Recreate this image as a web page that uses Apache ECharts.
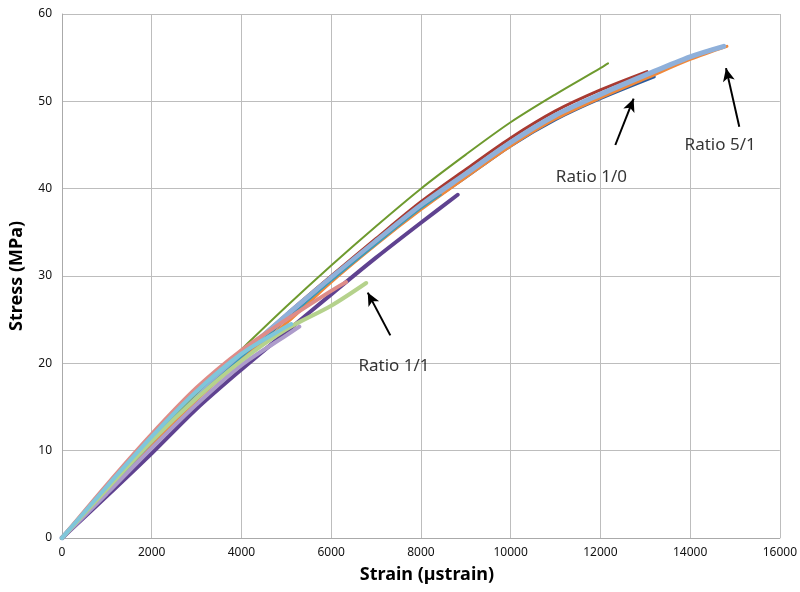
<!DOCTYPE html>
<html>
<head>
<meta charset="utf-8">
<script src="https://cdn.jsdelivr.net/npm/echarts@6/dist/echarts.min.js"></script>
<style>
  html, body { margin: 0; padding: 0; background: #fff; }
  #main { width: 800px; height: 592px; }
</style>
</head>
<body>
<div id="main"></div>
<script>
// strain (µstrain) / stress (MPa), one pair per test curve
var darkBlueStrain = [0, 1000, 2000, 3000, 4000, 5000, 6000, 7000, 8000, 9000, 10000, 11000, 12000, 13200];
var darkBlueStress = [0, 5.2, 10.7, 15.9, 20.6, 25.1, 29.5, 33.7, 37.7, 41.3, 44.9, 47.9, 50.3, 52.8];

var redStrain = [0, 1000, 2000, 3000, 4000, 5000, 6000, 7000, 8000, 9000, 10000, 11000, 12000, 13040];
var redStress = [0, 5.5, 11.0, 16.3, 21.0, 25.6, 30.0, 34.3, 38.5, 42.2, 45.8, 48.9, 51.3, 53.4];

var orangeStrain = [0, 1000, 2000, 3000, 4000, 5000, 6000, 7000, 8000, 9000, 10000, 11000, 12000, 13000, 14000, 14820];
var orangeStress = [0, 5.2, 10.6, 15.8, 20.4, 24.6, 29.3, 33.6, 37.6, 41.3, 44.9, 48.0, 50.4, 52.6, 54.8, 56.3];

var lightBlueStrain = [0, 1000, 2000, 3000, 4000, 5000, 6000, 7000, 8000, 9000, 10000, 11000, 12000, 13000, 14000, 14750];
var lightBlueStress = [0, 5.6, 11.2, 16.4, 21.0, 25.5, 29.8, 34.0, 38.1, 41.7, 45.3, 48.4, 50.8, 53.0, 55.1, 56.3];

var greenStrain = [0, 1000, 2000, 3000, 4000, 5000, 6000, 7000, 8000, 9000, 10000, 11000, 12000, 12170];
var greenStress = [0, 5.8, 11.4, 16.6, 21.6, 26.5, 31.2, 35.7, 40.0, 43.9, 47.6, 50.8, 53.8, 54.35];

var purpleStrain = [0, 1000, 2000, 3000, 4000, 5000, 6000, 7000, 8000, 8820];
var purpleStress = [0, 4.8, 9.7, 14.8, 19.3, 23.6, 27.9, 32.1, 36.1, 39.3];

var tealStrain = [0, 1000, 2000, 3000, 4000, 5000, 6000, 7000, 8000, 8450];
var tealStress = [0, 5.4, 10.9, 16.1, 20.7, 25.0, 29.4, 33.6, 37.7, 39.3];

var pinkStrain = [0, 1000, 2000, 3000, 4000, 5000, 6000, 6330];
var pinkStress = [0, 6.1, 11.9, 17.2, 21.5, 25.0, 28.3, 29.3];

var lightGreenStrain = [0, 1000, 2000, 3000, 4000, 5000, 6000, 6780];
var lightGreenStress = [0, 5.6, 11.1, 16.0, 20.3, 23.9, 26.6, 29.2];

var lightPurpleStrain = [0, 1000, 2000, 3000, 4000, 5000, 5290];
var lightPurpleStress = [0, 5.1, 10.3, 15.3, 19.8, 23.2, 24.2];

var lightCyanStrain = [0, 1000, 2000, 3000, 4000, 5000, 5110];
var lightCyanStress = [0, 5.9, 11.6, 16.8, 21.1, 24.2, 24.5];

// annotations: label position, arrow tail, arrow head (data units)
var noteTexts = ['Ratio 1/1', 'Ratio 1/0', 'Ratio 5/1'];
var noteAt = [[7400, 19.7], [11800, 41.3], [14670, 45.0]];
var arrowFrom = [[7318, 23.2], [12333, 45.0], [15096, 47.1]];
var arrowTo = [[6815, 28.1], [12741, 50.3], [14800, 53.8]];

var FONT = 'Noto Sans';

function pairs(xs, ys) {
	var out = [];
	for (var i = 0; i < xs.length; i++) out.push([xs[i], ys[i]]);
	return out;
}

function curve(xs, ys, color, width) {
	return {
		type: 'line',
		data: pairs(xs, ys),
		showSymbol: false,
		smooth: 0.3,
		lineStyle: { color: color, width: width, cap: 'round' },
		itemStyle: { color: color },
		z: 2
	};
}

var series = [
	curve(darkBlueStrain, darkBlueStress, '#2B5C9E', 3),
	curve(redStrain, redStress, '#A83A32', 3),
	curve(orangeStrain, orangeStress, '#F0883A', 3),
	curve(lightBlueStrain, lightBlueStress, '#8FB0DA', 5),
	curve(greenStrain, greenStress, '#6E9A2E', 2),
	curve(purpleStrain, purpleStress, '#5F4290', 4),
	curve(tealStrain, tealStress, '#3A9BB8', 1.5),
	curve(pinkStrain, pinkStress, '#DE8C88', 4),
	curve(lightPurpleStrain, lightPurpleStress, '#AD9CCB', 4),
	curve(lightGreenStrain, lightGreenStress, '#B5D28C', 4),
	curve(lightCyanStrain, lightCyanStress, '#7FC6DB', 4)
];

var arrowLines = [];
for (var i = 0; i < arrowFrom.length; i++) {
	arrowLines.push([{ coord: arrowFrom[i] }, { coord: arrowTo[i] }]);
}
series.push({
	type: 'line',
	data: [],
	markLine: {
		silent: true,
		symbol: ['none', 'arrow'],
		symbolSize: [9, 13],
		label: { show: false },
		lineStyle: { color: '#000', width: 2, type: 'solid' },
		data: arrowLines
	},
	z: 5
});

var notes = [];
for (var j = 0; j < noteTexts.length; j++) {
	notes.push({ name: noteTexts[j], value: noteAt[j] });
}
series.push({
	type: 'scatter',
	data: notes,
	symbolSize: 0,
	label: {
		show: true,
		position: 'inside',
		formatter: '{b}',
		color: '#000',
		fontFamily: FONT,
		fontSize: 17
	},
	z: 6
});

var chart = echarts.init(document.getElementById('main'));
chart.setOption({
	animation: false,
	backgroundColor: '#fff',
	grid: { left: 60, right: 20, top: 14, bottom: 54 },
	xAxis: {
		type: 'value',
		min: 0, max: 16000, interval: 2000,
		name: 'Strain (µstrain)',
		nameLocation: 'middle',
		nameGap: 28,
		nameTextStyle: { fontFamily: FONT, fontSize: 18, fontWeight: 'bold', color: '#000', padding: [0, 0, 0, 12] },
		axisLine: { show: true, lineStyle: { color: '#AAAAAA' } },
		axisTick: { show: false },
		axisLabel: {
			fontFamily: FONT, fontSize: 12, color: '#111', margin: 9,
			formatter: function (v) { return String(v); }
		},
		splitLine: { show: true, lineStyle: { color: '#BDBDBD', width: 1 } }
	},
	yAxis: {
		type: 'value',
		min: 0, max: 60, interval: 10,
		name: 'Stress (MPa)',
		nameLocation: 'middle',
		nameGap: 36,
		nameTextStyle: { fontFamily: FONT, fontSize: 18, fontWeight: 'bold', color: '#000' },
		axisLine: { show: true, lineStyle: { color: '#AAAAAA' } },
		axisTick: { show: false },
		axisLabel: { fontFamily: FONT, fontSize: 12, color: '#111', margin: 10 },
		splitLine: { show: true, lineStyle: { color: '#BDBDBD', width: 1 } }
	},
	series: series
});
</script>
</body>
</html>
